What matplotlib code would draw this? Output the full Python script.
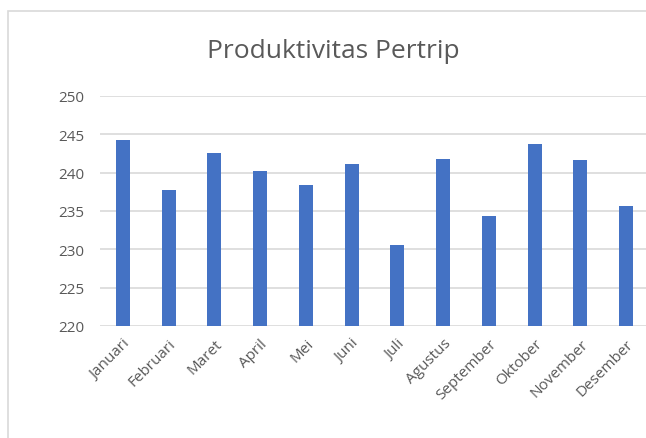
import matplotlib.pyplot as plt
from matplotlib.patches import Rectangle

# Data
bulan = ["Januari", "Februari", "Maret", "April", "Mei", "Juni", "Juli",
         "Agustus", "September", "Oktober", "November", "Desember"]
produktivitas = [244.2, 237.8, 242.6, 240.2, 238.4, 241.1, 230.6,
                 241.8, 234.4, 243.7, 241.7, 235.6]
y_ticks = [220, 225, 230, 235, 240, 245, 250]

plt.rcParams["font.family"] = ["Open Sans", "DejaVu Sans"]

W, H = 646, 439
fig = plt.figure(figsize=(W / 100, H / 100), dpi=100)

# chart border (screenshot of excel chart)
fig.patches.append(Rectangle((8 / W, -0.1), 1.2, 1 - 12 / H + 0.1,
                             transform=fig.transFigure, fill=False,
                             edgecolor="#d9d9d9", linewidth=1.2))

left, right = 100 / W, 649 / W
bottom, top = 1 - 327 / H, 1 - 97 / H
ax = fig.add_axes([left, bottom, right - left, top - bottom])

x = range(len(bulan))
ax.bar(x, produktivitas, width=0.31, color="#4472c4", zorder=3)

ax.set_ylim(220, 250)
ax.set_xlim(-0.5, len(bulan) - 0.5)
ax.set_yticks(y_ticks)
ax.set_xticks(list(x))
ax.set_xticklabels(bulan, rotation=45, ha="right", rotation_mode="anchor")
ax.tick_params(axis="both", length=0, labelsize=11, colors="#595959")
ax.tick_params(axis="y", pad=11)
ax.tick_params(axis="x", pad=7)
ax.grid(axis="y", color="#d9d9d9", linewidth=1.2, zorder=0)
for s in ax.spines.values():
    s.set_visible(False)

fig.text(333 / W, 1 - 52 / H, "Produktivitas Pertrip", ha="center", va="center",
         fontsize=19, color="#595959")

fig.savefig("out.png", dpi=100)
